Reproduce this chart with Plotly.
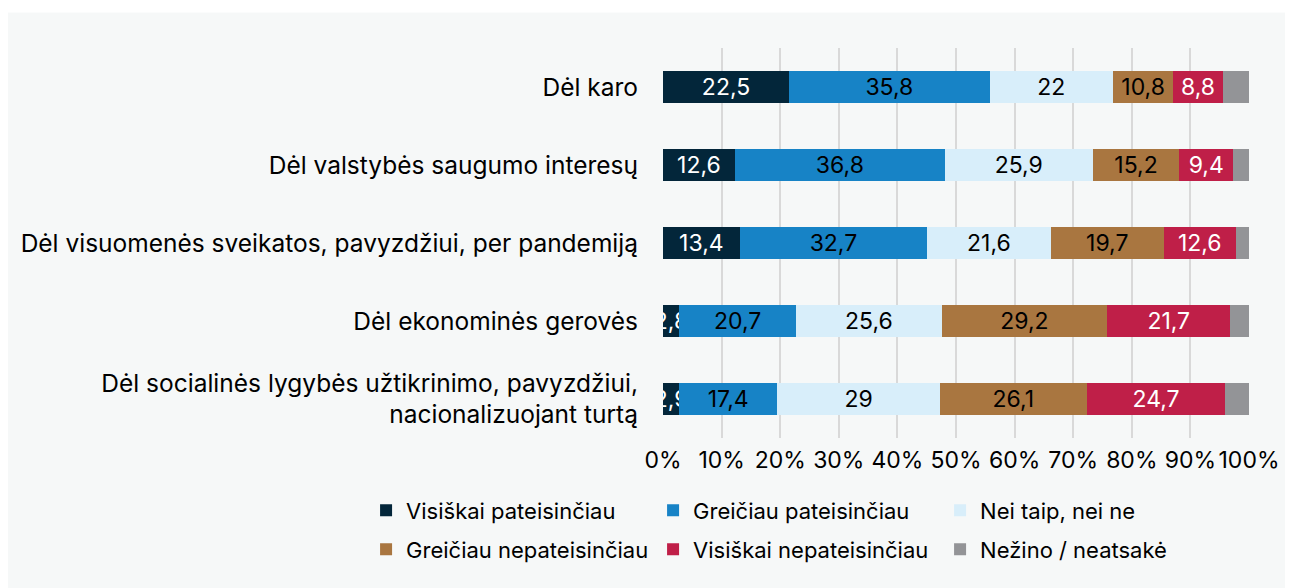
import plotly.graph_objects as go

categories = [
    "Dėl karo",
    "Dėl valstybės saugumo interesų",
    "Dėl visuomenės sveikatos, pavyzdžiui, per pandemiją",
    "Dėl ekonominės gerovės",
    "Dėl socialinės lygybės užtikrinimo, pavyzdžiui,<br>nacionalizuojant turtą",
]

series_names = [
    "Visiškai pateisinčiau",
    "Greičiau pateisinčiau",
    "Nei taip, nei ne",
    "Greičiau nepateisinčiau",
    "Visiškai nepateisinčiau",
    "Nežino / neatsakė",
]

visiskai_pat = [22.5, 12.6, 13.4, 2.8, 2.9]
greiciau_pat = [35.8, 36.8, 32.7, 20.7, 17.4]
nei_taip = [22, 25.9, 21.6, 25.6, 29]
greiciau_nepat = [10.8, 15.2, 19.7, 29.2, 26.1]
visiskai_nepat = [8.8, 9.4, 12.6, 21.7, 24.7]
nezino = [4.7, 2.8, 2.3, 3.3, 4.2]

values = [visiskai_pat, greiciau_pat, nei_taip, greiciau_nepat, visiskai_nepat, nezino]
colors = ["#03263a", "#1783c6", "#d8eefa", "#a97640", "#bf1f48", "#939497"]
label_colors = ["white", "black", "black", "black", "white", "black"]
show_labels = [True, True, True, True, True, False]
legends = ["legend", "legend", "legend", "legend2", "legend2", "legend2"]

panel = "#f6f8f8"
font = "Inter"

fig = go.Figure()
for name, vals, col, lcol, show, lg in zip(series_names, values, colors, label_colors, show_labels, legends):
    txt = [f"{v:g}".replace(".", ",") for v in vals] if show else None
    fig.add_trace(go.Bar(
        y=categories, x=vals, name=name, orientation="h",
        marker=dict(color=col, line=dict(width=0)),
        text=txt, textposition="inside" if show else "none",
        insidetextanchor="middle", textangle=0, constraintext="none",
        textfont=dict(family=font, size=23, color=lcol),
        legend=lg, hoverinfo="skip",
    ))

fig.update_layout(
    barmode="stack", barnorm="percent", bargap=0.6,
    width=1285, height=580,
    margin=dict(l=655, r=44, t=40, b=150),
    paper_bgcolor=panel, plot_bgcolor=panel,
    font=dict(family=font, size=20, color="black"),
    xaxis=dict(range=[0, 100], dtick=10, ticksuffix="%", showgrid=True,
               gridcolor="#d9d9d9", gridwidth=1.5, zeroline=False,
               tickfont=dict(size=23), ticklabelstandoff=6),
    yaxis=dict(autorange="reversed", tickfont=dict(size=24.5),
               ticklabelstandoff=24, showgrid=False),
    legend=dict(orientation="h", x=-0.5067, xanchor="left", y=-0.186, yanchor="middle",
                entrywidth=242, font=dict(size=22), bgcolor="rgba(0,0,0,0)",
                traceorder="normal"),
    legend2=dict(orientation="h", x=-0.5067, xanchor="left", y=-0.286, yanchor="middle",
                 entrywidth=242, font=dict(size=22), bgcolor="rgba(0,0,0,0)",
                 traceorder="normal"),
    shapes=[dict(type="rect", xref="paper", yref="paper", x0=-1.2, x1=1.2,
                 y0=1.091, y1=1.2, fillcolor="white", line=dict(width=0), layer="below")],
)

fig.write_html("out.html")
